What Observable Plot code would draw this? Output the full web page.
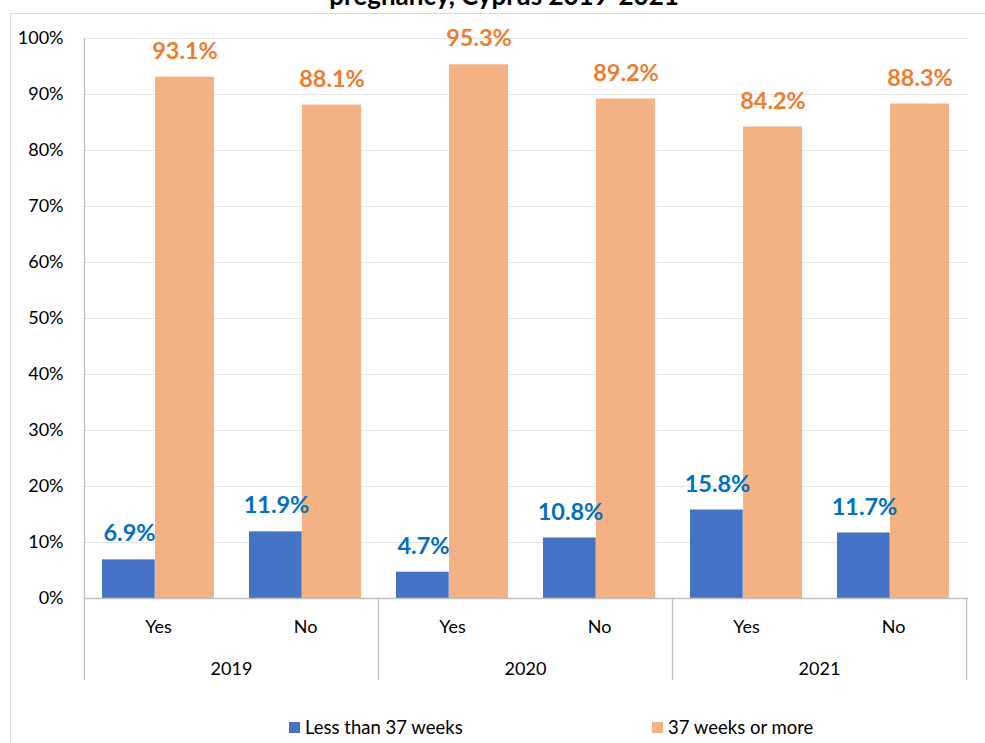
<!DOCTYPE html>
<html>
<head>
<meta charset="utf-8">
<script src="https://cdn.jsdelivr.net/npm/d3@7"></script>
<script src="https://cdn.jsdelivr.net/npm/@observablehq/plot@0.6"></script>
<style>
  body { margin: 0; background: #fff; font-family: Lato, "Open Sans", sans-serif; }
  #wrap { position: relative; width: 985px; height: 743px; overflow: hidden; background: #fff; }
  #frame { position: absolute; left: 10px; top: 13px; width: 1000px; height: 800px; border: 1.5px solid #D9D9D9; box-sizing: border-box; }
  #title { position: absolute; left: 0; width: 1008px; top: -18.5px; text-align: center; font-weight: bold; font-size: 26px; line-height: 26px; color: #000; white-space: nowrap; }
  #chart { position: absolute; left: 0; top: 0; }
  .leg { position: absolute; top: 718px; display: flex; align-items: center; font-size: 18.5px; line-height: 19px; color: #000; white-space: nowrap; }
  .sw { width: 11px; height: 11px; margin-right: 5px; }
</style>
</head>
<body>
<div id="wrap">
  <div id="frame"></div>
  <div id="title"></div>
  <div id="chart"></div>
  <div class="leg" id="leg0" style="left:289px"></div>
  <div class="leg" id="leg1" style="left:652px"></div>
</div>
<script>
const titleText = "pregnancy, Cyprus 2019-2021";
const years = ["2019", "2020", "2021"];
const smoking = ["Yes", "No"];
const seriesNames = ["Less than 37 weeks", "37 weeks or more"];
const lessThan37 = [6.9, 11.9, 4.7, 10.8, 15.8, 11.7];
const weeks37OrMore = [93.1, 88.1, 95.3, 89.2, 84.2, 88.3];
const yTicks = [0, 10, 20, 30, 40, 50, 60, 70, 80, 90, 100];
const colors = ["#4472C4", "#F4B183"];
const labelColors = ["#0070C0", "#ED7D31"];

const rows = years.flatMap((yr, i) => smoking.map((s, j) => ({
  key: yr + " " + s, year: yr, group: s,
  less: lessThan37[i * 2 + j], more: weeks37OrMore[i * 2 + j]
})));
const keys = rows.map(d => d.key);

document.getElementById("title").textContent = titleText;

const labelStyle = { fontWeight: "bold", fontSize: 23.5, fontFamily: "Lato, sans-serif" };

const chart = Plot.plot({
  width: 985,
  height: 700,
  marginLeft: 84,
  marginRight: 17,
  marginTop: 38,
  marginBottom: 102,
  style: { fontFamily: "Lato, 'Open Sans', sans-serif", fontSize: "18px", color: "#000", background: "transparent" },
  x: { domain: keys, paddingInner: 0.2376, paddingOuter: 0.1188, align: 0.5, label: null, tickSize: 0, tickPadding: 21.5, tickFormat: k => k.split(" ")[1] },
  y: { domain: [0, 100], ticks: yTicks, tickFormat: d => d + "%", tickSize: 0, tickPadding: 21, label: null },
  marks: [
    Plot.ruleY(yTicks.filter(t => t > 0), { stroke: "#E4E4E4", strokeWidth: 1 }),
    Plot.barY(rows, { x: "key", y: "less", fill: colors[0], insetRight: 59.3 }),
    Plot.barY(rows, { x: "key", y: "more", fill: colors[1], insetLeft: 53 }),
    Plot.text(rows, { x: "key", y: "less", text: d => d.less.toFixed(1) + "%", dx: -29, dy: -26, fill: labelColors[0], ...labelStyle }),
    Plot.text(rows, { x: "key", y: "more", text: d => d.more.toFixed(1) + "%", dx: 26.5, dy: -26, fill: labelColors[1], ...labelStyle }),
    Plot.ruleY([0], { stroke: "#BFBFBF", strokeWidth: 1.3 })
  ]
});
document.getElementById("chart").appendChild(chart);

// group separators, vertical axis line and year labels from Plot's own scales
const sx = chart.scale("x"), sy = chart.scale("y");
const svg = d3.select(chart);
const halfGap = (sx.step - sx.bandwidth) / 2;
const yBase = sy.apply(0), yTop = sy.apply(100), yEnd = yBase + 82;
const bounds = years.map((yr, i) => sx.apply(keys[i * 2]) - halfGap);
bounds.push(sx.apply(keys[keys.length - 1]) + sx.bandwidth + halfGap);
const g = svg.append("g");
g.append("line").attr("x1", bounds[0]).attr("x2", bounds[0]).attr("y1", yTop).attr("y2", yEnd)
  .attr("stroke", "#BFBFBF").attr("stroke-width", 1.3);
bounds.slice(1).forEach(b => {
  g.append("line").attr("x1", b).attr("x2", b).attr("y1", yBase).attr("y2", yEnd)
    .attr("stroke", "#BFBFBF").attr("stroke-width", 1.3);
});
years.forEach((yr, i) => {
  g.append("text").attr("x", (bounds[i] + bounds[i + 1]) / 2).attr("y", yBase + 76.5)
    .attr("text-anchor", "middle").attr("font-size", 18).attr("fill", "#000").text(yr);
});

// legend
seriesNames.forEach((name, i) => {
  const el = document.getElementById("leg" + i);
  const sw = document.createElement("div");
  sw.className = "sw"; sw.style.background = colors[i];
  const t = document.createElement("span"); t.textContent = name;
  el.appendChild(sw); el.appendChild(t);
});
</script>
</body>
</html>
